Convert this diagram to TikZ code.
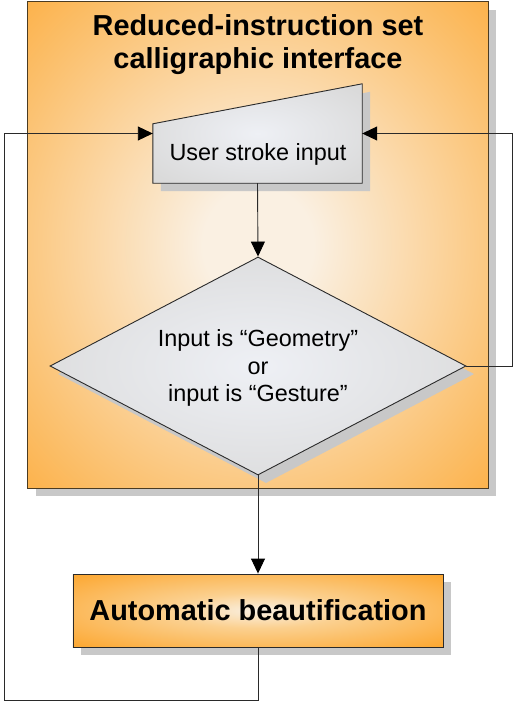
\documentclass[tikz,border=0pt]{standalone}
\usepackage{fontspec}
\setmainfont{Liberation Sans}
\usetikzlibrary{shapes.geometric,arrows.meta,calc}

\definecolor{flowOrange}{HTML}{FCA935}
\definecolor{flowCream}{HTML}{FAF0E2}
\definecolor{flowPeach}{HTML}{FBD08F}
\definecolor{flowGrey}{HTML}{DADADA}
\definecolor{flowPale}{HTML}{EEF0F5}
\definecolor{shadowGrey}{HTML}{C8C8C8}
\definecolor{lineGrey}{HTML}{2A2A2A}
\definecolor{panelBorder}{HTML}{4A3B22}

% soft glows used as fills
\pgfdeclareradialshading{panelglow}{\pgfpointorigin}{color(0bp)=(flowCream); color(6bp)=(flowCream); color(40bp)=(flowOrange); color(50bp)=(flowOrange)}
\pgfdeclareradialshading{steelglow}{\pgfpointorigin}{color(0bp)=(flowPale); color(32bp)=(flowGrey); color(50bp)=(flowGrey)}
\pgfdeclareradialshading{barglow}{\pgfpointorigin}{color(0bp)=(flowCream); color(12bp)=(flowPeach); color(34bp)=(flowOrange); color(50bp)=(flowOrange)}

\tikzset{
  flow/.style={draw=lineGrey, line width=0.9bp, -{Triangle[length=15bp,width=14bp,color=black,fill=black]}},
  boldtext/.style={font=\bfseries\fontsize{29}{33}\selectfont},
  plaintext/.style={font=\fontsize{23.5}{27.5}\selectfont},
  decision/.style={diamond, aspect=1.9, minimum width=416bp, minimum height=218bp, inner sep=0pt},
  barbox/.style={rectangle, minimum width=370bp, minimum height=73bp, inner sep=0pt},
}

\begin{document}
\begin{tikzpicture}[x=1bp, y=-1bp]
\useasboundingbox (0,0) rectangle (514,702);

% panel with its drop shadow
\fill[shadowGrey] (36,10) rectangle (496,496);
\node[rectangle, minimum width=460bp, minimum height=486bp, inner sep=0pt,
      draw=panelBorder, line width=1bp, shading=panelglow] (panel) at (258,245) {};
\node[boldtext, align=center] (title) at (258,45) {Reduced-instruction set\\calligraphic interface};

% manual input block
\node[rectangle, minimum width=209bp, minimum height=99bp, inner sep=0pt] (ui) at (257.5,133.5) {};
\fill[shadowGrey] ([shift={(8,8)}]ui.south west) -- ([shift={(8,8)}]ui.south east)
   -- ([shift={(8,8)}]ui.north east) -- ([shift={(8,48)}]ui.north west) -- cycle;
\path[draw=lineGrey, line width=0.9bp, shading=steelglow] (ui.south west) -- (ui.south east)
   -- (ui.north east) -- ([yshift=-40bp]ui.north west) -- cycle;
\node[plaintext] (uitext) at (258,154) {User stroke input};

% decision
\node[decision, fill=shadowGrey] (decshadow) at (266,374) {};
\node[decision, draw=lineGrey, line width=0.9bp, shading=steelglow] (dec) at (258,366) {};
\node[plaintext, align=center] (dectext) at (258,368) {Input is “Geometry”\\or\\input is “Gesture”};

% beautification block
\node[barbox, fill=shadowGrey] (abshadow) at (266,618.5) {};
\node[barbox, draw=lineGrey, line width=0.9bp, shading=barglow, boldtext] (ab) at (258,610.5) {Automatic beautification};

% connectors
\coordinate (loopBL) at (4,700.5);
\coordinate (loopR) at (512.5,250);
\draw[flow] (ui.south) -- (dec.north);
\draw[flow] (dec.south) -- (ab.north);
\draw[flow] (ab.south) |- (loopBL) |- (ui.west);
\draw[flow] (dec.east) -| (loopR) |- (ui.east);
\end{tikzpicture}
\end{document}
